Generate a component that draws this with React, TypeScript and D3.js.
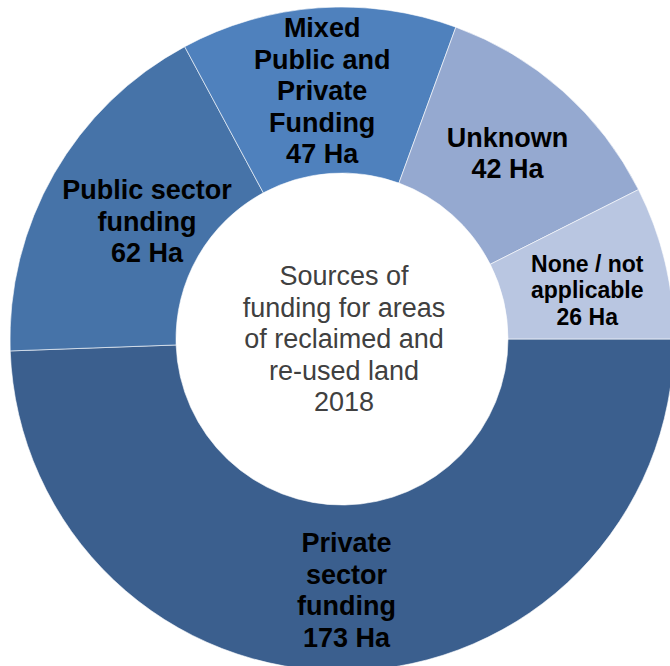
import { useEffect } from 'react';
import * as d3 from 'd3';

// Slices in clockwise order starting from 3 o'clock
const categories = ['Private sector funding', 'Public sector funding', 'Mixed Public and Private Funding', 'Unknown', 'None / not applicable'];
const values = [173, 62, 47, 42, 26];
const labelLines = [
    ['Private', 'sector', 'funding', '173 Ha'],
    ['Public sector', 'funding', '62 Ha'],
    ['Mixed', 'Public and', 'Private', 'Funding', '47 Ha'],
    ['Unknown', '42 Ha'],
    ['None / not', 'applicable', '26 Ha'],
];
const centerLines = ['Sources of', 'funding for areas', 'of reclaimed and', 're-used land', '2018'];

const colors = ['#3b5f8e', '#4673a8', '#4f81bd', '#95a9d0', '#b9c6e1'];
// small nudges from the arc centroid, like Excel's best-fit placement
const labelNudge = [[0, 2], [21, 6], [-2, 0], [0, 0], [3, 9]];
const labelSize = [27, 27, 27, 27, 23];

const W = 670;
const H = 666;
const cx = 342;
const cy = 339;
const outerR = 332;
const innerR = 166;

export default function App() {
    useEffect(() => {
        document.body.style.margin = '0';
    }, []);

    const pie = d3.pie<number>()
        .sort(null)
        .startAngle(Math.PI / 2)
        .endAngle(Math.PI / 2 + 2 * Math.PI);
    const arcs = pie(values);
    const arc = d3.arc<d3.PieArcDatum<number>>()
        .innerRadius(innerR)
        .outerRadius(outerR);

    const font = '"Liberation Sans", Arial, sans-serif';

    return (
        <svg width={W} height={H} style={{ display: 'block' }}>
            <g transform={`translate(${cx},${cy})`}>
                {arcs.map((a, i) => (
                    <path
                        key={categories[i]}
                        d={arc(a) || ''}
                        fill={colors[i]}
                        stroke="#ffffff"
                        strokeOpacity={0.6}
                        strokeWidth={1}
                    />
                ))}
                {arcs.map((a, i) => {
                    const [x, y] = arc.centroid(a);
                    const size = labelSize[i];
                    const lh = size * 1.17;
                    const lines = labelLines[i];
                    const top = y + labelNudge[i][1] - ((lines.length - 1) * lh) / 2;
                    return (
                        <text
                            key={'l' + i}
                            x={x + labelNudge[i][0]}
                            textAnchor="middle"
                            fontFamily={font}
                            fontWeight="bold"
                            fontSize={size}
                            fill="#000"
                        >
                            {lines.map((t, j) => (
                                <tspan key={j} x={x + labelNudge[i][0]} y={top + j * lh} dy="0.35em">{t}</tspan>
                            ))}
                        </text>
                    );
                })}
                <text textAnchor="middle" fontFamily={font} fontSize={27} fill="#404040">
                    {centerLines.map((t, j) => (
                        <tspan key={j} x={2} y={-63 + j * 31.4} dy="0.35em">{t}</tspan>
                    ))}
                </text>
            </g>
        </svg>
    );
}
